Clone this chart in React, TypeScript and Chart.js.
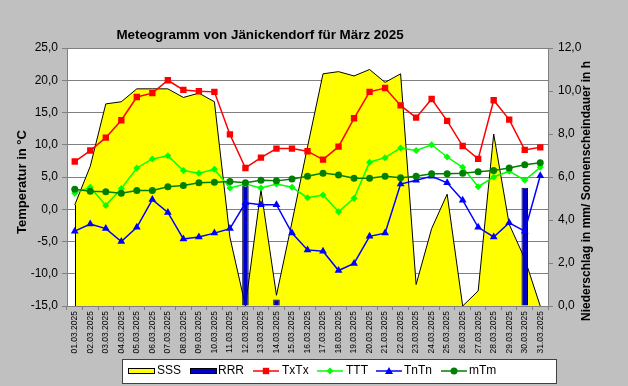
import React, { useEffect, useRef } from "react";
import { Chart, registerables } from "chart.js";

Chart.register(...registerables);

const categories = [
  "01.03.2025", "02.03.2025", "03.03.2025", "04.03.2025", "05.03.2025", "06.03.2025", "07.03.2025", "08.03.2025",
  "09.03.2025", "10.03.2025", "11.03.2025", "12.03.2025", "13.03.2025", "14.03.2025", "15.03.2025", "16.03.2025",
  "17.03.2025", "18.03.2025", "19.03.2025", "20.03.2025", "21.03.2025", "22.03.2025", "23.03.2025", "24.03.2025",
  "25.03.2025", "26.03.2025", "27.03.2025", "28.03.2025", "29.03.2025", "30.03.2025", "31.03.2025",
];

// Sonnenscheindauer (h), right axis
const sss = [4.7, 6.5, 9.4, 9.5, 10.1, 10.1, 10.1, 9.7, 9.9, 9.5, 3.2, 0.0, 5.4, 0.5, 3.9, 7.4,
  10.8, 10.9, 10.7, 11.0, 10.4, 10.8, 1.0, 3.6, 5.2, 0.0, 0.7, 8.0, 3.8, 2.2, 0.0];
// Niederschlag (mm), right axis
const rrr = [0, 0, 0, 0, 0, 0, 0, 0, 0, 0, 0, 5.6, 0, 0.3, 0, 0,
  0, 0, 0, 0, 0, 0, 0, 0, 0, 0, 0, 0, 0, 5.5, 0];
// Temperatures (°C), left axis
const txtx = [7.4, 9.1, 11.1, 13.8, 17.4, 18.0, 20.0, 18.5, 18.3, 18.2, 11.6, 6.4, 8.0, 9.4, 9.4, 9.0,
  7.7, 9.7, 14.1, 18.2, 18.8, 16.1, 14.2, 17.1, 13.7, 9.8, 7.8, 16.9, 13.9, 9.2, 9.6];
const ttt = [2.5, 3.4, 0.6, 3.2, 6.4, 7.8, 8.3, 6.0, 5.6, 6.2, 3.3, 3.9, 3.3, 3.9, 3.4, 1.8,
  2.2, -0.4, 1.7, 7.3, 8.0, 9.5, 9.1, 10.0, 8.1, 6.5, 3.5, 5.0, 5.9, 4.5, 6.5];
const tntn = [-3.4, -2.3, -3.0, -5.0, -2.8, 1.5, -0.5, -4.6, -4.3, -3.7, -3.0, 1.0, 0.7, 0.7, -3.7, -6.3,
  -6.5, -9.5, -8.4, -4.2, -3.7, 3.9, 4.5, 5.1, 4.1, 1.4, -2.8, -4.3, -2.1, -3.4, 5.2];
const mtm = [3.1, 2.8, 2.7, 2.5, 2.9, 2.9, 3.5, 3.7, 4.1, 4.2, 4.3, 4.1, 4.5, 4.4, 4.7, 5.1,
  5.6, 5.3, 4.8, 4.8, 5.1, 4.9, 5.1, 5.5, 5.5, 5.6, 5.8, 6.0, 6.4, 6.9, 7.2];

const titleText = "Meteogramm von Jänickendorf für März 2025";
const leftTitle = "Temperatur in °C";
const rightTitle = "Niederschlag in mm/ Sonnenscheindauer in h";

const FONT = "'Liberation Sans', Arial, sans-serif";
const fmt = (v: number) => Number(v).toFixed(1).replace(".", ",");

const legendItems = [
  { label: "SSS", kind: "box", fill: "#FFFF00", stroke: "#000000", x: 128, tx: 157 },
  { label: "RRR", kind: "box", fill: "#0000C8", stroke: "#000000", x: 190, tx: 218 },
  { label: "TxTx", kind: "rect", fill: "#FF0000", stroke: "#FF0000", x: 253, tx: 282 },
  { label: "TTT", kind: "diamond", fill: "#00FF00", stroke: "#00FF00", x: 317, tx: 346 },
  { label: "TnTn", kind: "triangle", fill: "#0000FF", stroke: "#0000FF", x: 376, tx: 404 },
  { label: "mTm", kind: "circle", fill: "#008000", stroke: "#008000", x: 441, tx: 469 },
];

function drawMarker(ctx: CanvasRenderingContext2D, kind: string, x: number, y: number, color: string) {
  ctx.fillStyle = color;
  ctx.beginPath();
  if (kind === "rect") {
    ctx.rect(x - 3.2, y - 3.2, 6.4, 6.4);
  } else if (kind === "diamond") {
    ctx.moveTo(x, y - 3.5);
    ctx.lineTo(x + 3.5, y);
    ctx.lineTo(x, y + 3.5);
    ctx.lineTo(x - 3.5, y);
    ctx.closePath();
  } else if (kind === "triangle") {
    ctx.moveTo(x, y - 4);
    ctx.lineTo(x + 4, y + 3);
    ctx.lineTo(x - 4, y + 3);
    ctx.closePath();
  } else {
    ctx.arc(x, y, 3.5, 0, Math.PI * 2);
  }
  ctx.fill();
}

const decorPlugin = {
  id: "decor",
  beforeDraw(chart: any) {
    const { ctx, chartArea } = chart;
    ctx.save();
    ctx.fillStyle = "#FFFFFF";
    ctx.fillRect(chartArea.left, chartArea.top, chartArea.right - chartArea.left, chartArea.bottom - chartArea.top);
    ctx.restore();
  },
  afterDatasetDraw(chart: any, args: any) {
    if (args.index !== 0) return;
    const meta = chart.getDatasetMeta(0);
    const pts = meta.data;
    if (!pts || !pts.length) return;
    const base = chart.scales.y1.getPixelForValue(0);
    const ctx = chart.ctx;
    ctx.save();
    ctx.strokeStyle = "#000000";
    ctx.lineWidth = 1;
    ctx.beginPath();
    const first = pts[0];
    const last = pts[pts.length - 1];
    ctx.moveTo(Math.round(first.x) + 0.5, first.y);
    ctx.lineTo(Math.round(first.x) + 0.5, base);
    ctx.moveTo(Math.round(last.x) + 0.5, last.y);
    ctx.lineTo(Math.round(last.x) + 0.5, base);
    ctx.stroke();
    ctx.restore();
  },
  afterDraw(chart: any) {
    const { ctx } = chart;
    ctx.save();
    ctx.fillStyle = "#000000";
    ctx.textAlign = "center";
    ctx.textBaseline = "middle";
    ctx.font = `bold 13.4px ${FONT}`;
    ctx.fillText(titleText, 260, 35.5);

    ctx.save();
    ctx.translate(22, 182);
    ctx.rotate(-Math.PI / 2);
    ctx.font = `bold 13px ${FONT}`;
    ctx.fillText(leftTitle, 0, 0);
    ctx.restore();

    ctx.save();
    ctx.translate(587, 191);
    ctx.rotate(-Math.PI / 2);
    ctx.font = `bold 12px ${FONT}`;
    ctx.fillText(rightTitle, 0, 0);
    ctx.restore();

    // legend
    ctx.fillStyle = "#FFFFFF";
    ctx.fillRect(122, 359, 434, 24);
    ctx.strokeStyle = "#404040";
    ctx.lineWidth = 1;
    ctx.strokeRect(122.5, 359.5, 434, 24);
    const ly = 371;
    ctx.font = `12px ${FONT}`;
    ctx.textAlign = "left";
    for (const it of legendItems) {
      if (it.kind === "box") {
        ctx.fillStyle = it.fill;
        ctx.fillRect(it.x, ly - 3, 27, 6);
        ctx.strokeStyle = it.stroke;
        ctx.strokeRect(it.x + 0.5, ly - 2.5, 26, 5);
      } else {
        ctx.strokeStyle = it.stroke;
        ctx.lineWidth = 1.5;
        ctx.beginPath();
        ctx.moveTo(it.x, ly);
        ctx.lineTo(it.x + 26, ly);
        ctx.stroke();
        ctx.lineWidth = 1;
        drawMarker(ctx, it.kind, it.x + 13, ly, it.fill);
      }
      ctx.fillStyle = "#000000";
      ctx.fillText(it.label, it.tx, ly);
    }
    ctx.restore();
  },
};

export default function App() {
  const ref = useRef<HTMLCanvasElement | null>(null);
  useEffect(() => {
    if (!ref.current) return;
    const chart = new Chart(ref.current, {
      type: "bar",
      data: {
        labels: categories,
        datasets: [
          {
            type: "line",
            label: "SSS",
            data: sss,
            yAxisID: "y1",
            fill: "origin",
            backgroundColor: "#FFFF00",
            borderColor: "#000000",
            borderWidth: 1,
            pointRadius: 0,
            tension: 0,
            order: 10,
          } as any,
          {
            type: "bar",
            label: "RRR",
            data: rrr,
            yAxisID: "y1",
            backgroundColor: "#0000C8",
            borderColor: "#000040",
            borderWidth: 1,
            categoryPercentage: 1,
            barPercentage: 0.42,
            order: 9,
          } as any,
          {
            type: "line",
            label: "TxTx",
            data: txtx,
            yAxisID: "y",
            borderColor: "#FF0000",
            backgroundColor: "#FF0000",
            borderWidth: 1.5,
            pointStyle: "rect",
            pointRadius: 4.5,
            pointBorderWidth: 0,
            fill: false,
            tension: 0,
            order: 4,
          } as any,
          {
            type: "line",
            label: "TTT",
            data: ttt,
            yAxisID: "y",
            borderColor: "#00FF00",
            backgroundColor: "#00FF00",
            borderWidth: 1.5,
            pointStyle: "rectRot",
            pointRadius: 3.5,
            pointBorderWidth: 0,
            fill: false,
            tension: 0,
            order: 3,
          } as any,
          {
            type: "line",
            label: "TnTn",
            data: tntn,
            yAxisID: "y",
            borderColor: "#0000FF",
            backgroundColor: "#0000FF",
            borderWidth: 1.5,
            pointStyle: "triangle",
            pointRadius: 4.5,
            pointBorderWidth: 0,
            fill: false,
            tension: 0,
            order: 2,
          } as any,
          {
            type: "line",
            label: "mTm",
            data: mtm,
            yAxisID: "y",
            borderColor: "#008000",
            backgroundColor: "#008000",
            borderWidth: 1.5,
            pointStyle: "circle",
            pointRadius: 3.5,
            pointBorderWidth: 0,
            fill: false,
            tension: 0,
            order: 1,
          } as any,
        ],
      },
      options: {
        responsive: false,
        animation: false,
        devicePixelRatio: 1,
        layout: { padding: { top: 48, left: 0, right: 0, bottom: 0 } },
        plugins: {
          legend: { display: false },
          title: { display: false },
          tooltip: { enabled: false },
        },
        scales: {
          x: {
            type: "category",
            offset: true,
            grid: {
              display: true,
              drawOnChartArea: false,
              drawTicks: true,
              tickLength: 4,
              color: "#808080",
              offset: true,
            },
            border: { color: "#808080" },
            ticks: {
              minRotation: 90,
              maxRotation: 90,
              autoSkip: false,
              padding: 1,
              color: "#000000",
              font: { family: FONT, size: 8.5 },
            },
            afterFit: (s: any) => {
              s.height = 80;
            },
          },
          y: {
            position: "left",
            min: -15,
            max: 25,
            ticks: {
              stepSize: 5,
              callback: (v: any) => fmt(v),
              color: "#000000",
              padding: 4,
              font: { family: FONT, size: 12 },
            },
            grid: { color: "#808080", tickLength: 5 },
            border: { color: "#808080" },
            afterFit: (s: any) => {
              s.width = 67;
            },
          },
          y1: {
            position: "right",
            min: 0,
            max: 12,
            ticks: {
              stepSize: 2,
              callback: (v: any) => fmt(v),
              color: "#000000",
              padding: 5,
              font: { family: FONT, size: 12 },
            },
            grid: { drawOnChartArea: false, color: "#808080", tickLength: 5 },
            border: { color: "#808080" },
            afterFit: (s: any) => {
              s.width = 80;
            },
          },
        },
      } as any,
      plugins: [decorPlugin],
    });
    return () => chart.destroy();
  }, []);

  return (
    <div style={{ position: "fixed", left: 0, top: 0, width: 628, height: 386, background: "#C0C0C0" }}>
      <canvas ref={ref} width={628} height={386} style={{ display: "block", width: 628, height: 386 }} />
    </div>
  );
}
